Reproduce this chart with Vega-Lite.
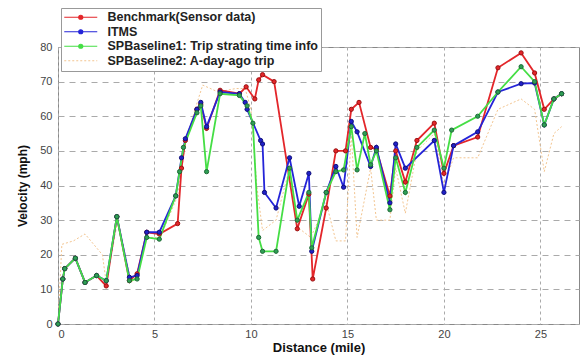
{
  "$schema": "https://vega.github.io/schema/vega-lite/v6.json",
  "width": 521,
  "height": 277,
  "autosize": {"type": "none"},
  "padding": {"left": 58, "top": 47, "right": 1, "bottom": 32},
  "background": "white",
  "config": {
    "font": "Liberation Sans",
    "view": {"stroke": "#888", "strokeWidth": 1},
    "axis": {"labelFont": "Liberation Sans", "labelFontSize": 11, "labelColor": "#444", "titleFont": "Liberation Sans", "titleFontWeight": "bold", "titleColor": "#111", "domain": false, "ticks": false, "grid": true, "gridColor": "#aaa", "gridWidth": 1}
  },
  "data": {"values": [
    {"s": "Benchmark(Sensor data)", "x": 0, "y": 0},
    {"s": "Benchmark(Sensor data)", "x": 0.25, "y": 13},
    {"s": "Benchmark(Sensor data)", "x": 0.35, "y": 16},
    {"s": "Benchmark(Sensor data)", "x": 0.9, "y": 19},
    {"s": "Benchmark(Sensor data)", "x": 1.4, "y": 12},
    {"s": "Benchmark(Sensor data)", "x": 2.0, "y": 14},
    {"s": "Benchmark(Sensor data)", "x": 2.5, "y": 11},
    {"s": "Benchmark(Sensor data)", "x": 3.05, "y": 31},
    {"s": "Benchmark(Sensor data)", "x": 3.7, "y": 12.5},
    {"s": "Benchmark(Sensor data)", "x": 4.1, "y": 14.5},
    {"s": "Benchmark(Sensor data)", "x": 4.6, "y": 26.5},
    {"s": "Benchmark(Sensor data)", "x": 5.25, "y": 26},
    {"s": "Benchmark(Sensor data)", "x": 6.2, "y": 29},
    {"s": "Benchmark(Sensor data)", "x": 6.4, "y": 45},
    {"s": "Benchmark(Sensor data)", "x": 6.6, "y": 53},
    {"s": "Benchmark(Sensor data)", "x": 7.2, "y": 62},
    {"s": "Benchmark(Sensor data)", "x": 7.4, "y": 63.5},
    {"s": "Benchmark(Sensor data)", "x": 7.7, "y": 56.5},
    {"s": "Benchmark(Sensor data)", "x": 8.4, "y": 67.5},
    {"s": "Benchmark(Sensor data)", "x": 9.4, "y": 66.5},
    {"s": "Benchmark(Sensor data)", "x": 9.75, "y": 68.5},
    {"s": "Benchmark(Sensor data)", "x": 10.2, "y": 65},
    {"s": "Benchmark(Sensor data)", "x": 10.4, "y": 70.5},
    {"s": "Benchmark(Sensor data)", "x": 10.6, "y": 72},
    {"s": "Benchmark(Sensor data)", "x": 11.2, "y": 70},
    {"s": "Benchmark(Sensor data)", "x": 12.4, "y": 27.5},
    {"s": "Benchmark(Sensor data)", "x": 13.0, "y": 37.5},
    {"s": "Benchmark(Sensor data)", "x": 13.2, "y": 13},
    {"s": "Benchmark(Sensor data)", "x": 13.9, "y": 33.5},
    {"s": "Benchmark(Sensor data)", "x": 14.4, "y": 50},
    {"s": "Benchmark(Sensor data)", "x": 14.9, "y": 50},
    {"s": "Benchmark(Sensor data)", "x": 15.2, "y": 62},
    {"s": "Benchmark(Sensor data)", "x": 15.6, "y": 64},
    {"s": "Benchmark(Sensor data)", "x": 16.2, "y": 51},
    {"s": "Benchmark(Sensor data)", "x": 16.5, "y": 50.5},
    {"s": "Benchmark(Sensor data)", "x": 17.2, "y": 37},
    {"s": "Benchmark(Sensor data)", "x": 17.5, "y": 50},
    {"s": "Benchmark(Sensor data)", "x": 18.0, "y": 41},
    {"s": "Benchmark(Sensor data)", "x": 18.6, "y": 53},
    {"s": "Benchmark(Sensor data)", "x": 19.5, "y": 58},
    {"s": "Benchmark(Sensor data)", "x": 20.0, "y": 43.5},
    {"s": "Benchmark(Sensor data)", "x": 20.5, "y": 51.5},
    {"s": "Benchmark(Sensor data)", "x": 21.75, "y": 54},
    {"s": "Benchmark(Sensor data)", "x": 22.8, "y": 74},
    {"s": "Benchmark(Sensor data)", "x": 24.0, "y": 78.3},
    {"s": "Benchmark(Sensor data)", "x": 24.7, "y": 72.5},
    {"s": "Benchmark(Sensor data)", "x": 25.2, "y": 62},
    {"s": "Benchmark(Sensor data)", "x": 25.7, "y": 65},
    {"s": "Benchmark(Sensor data)", "x": 26.1, "y": 66.5},

    {"s": "ITMS", "x": 0, "y": 0},
    {"s": "ITMS", "x": 0.25, "y": 13},
    {"s": "ITMS", "x": 0.35, "y": 16},
    {"s": "ITMS", "x": 0.9, "y": 19},
    {"s": "ITMS", "x": 1.4, "y": 12},
    {"s": "ITMS", "x": 2.0, "y": 14},
    {"s": "ITMS", "x": 2.5, "y": 12.5},
    {"s": "ITMS", "x": 3.05, "y": 31},
    {"s": "ITMS", "x": 3.7, "y": 13.5},
    {"s": "ITMS", "x": 4.1, "y": 14},
    {"s": "ITMS", "x": 4.6, "y": 26.5},
    {"s": "ITMS", "x": 5.25, "y": 26.5},
    {"s": "ITMS", "x": 6.1, "y": 37},
    {"s": "ITMS", "x": 6.4, "y": 48},
    {"s": "ITMS", "x": 6.6, "y": 53.5},
    {"s": "ITMS", "x": 7.2, "y": 62},
    {"s": "ITMS", "x": 7.4, "y": 64},
    {"s": "ITMS", "x": 7.7, "y": 57},
    {"s": "ITMS", "x": 8.4, "y": 67},
    {"s": "ITMS", "x": 9.4, "y": 66.5},
    {"s": "ITMS", "x": 9.7, "y": 64},
    {"s": "ITMS", "x": 9.8, "y": 62},
    {"s": "ITMS", "x": 10.5, "y": 53},
    {"s": "ITMS", "x": 10.6, "y": 52},
    {"s": "ITMS", "x": 10.7, "y": 38},
    {"s": "ITMS", "x": 11.3, "y": 33.5},
    {"s": "ITMS", "x": 12.0, "y": 48},
    {"s": "ITMS", "x": 12.5, "y": 34},
    {"s": "ITMS", "x": 13.0, "y": 43.5},
    {"s": "ITMS", "x": 13.15, "y": 21},
    {"s": "ITMS", "x": 13.9, "y": 38},
    {"s": "ITMS", "x": 14.4, "y": 45.5},
    {"s": "ITMS", "x": 14.8, "y": 39.5},
    {"s": "ITMS", "x": 15.2, "y": 58.5},
    {"s": "ITMS", "x": 15.5, "y": 55.5},
    {"s": "ITMS", "x": 16.2, "y": 45.5},
    {"s": "ITMS", "x": 16.5, "y": 51},
    {"s": "ITMS", "x": 17.2, "y": 35},
    {"s": "ITMS", "x": 17.5, "y": 52},
    {"s": "ITMS", "x": 18.0, "y": 45},
    {"s": "ITMS", "x": 19.5, "y": 53},
    {"s": "ITMS", "x": 20.0, "y": 38},
    {"s": "ITMS", "x": 20.5, "y": 51.5},
    {"s": "ITMS", "x": 21.75, "y": 55.5},
    {"s": "ITMS", "x": 22.8, "y": 67},
    {"s": "ITMS", "x": 24.0, "y": 69.4},
    {"s": "ITMS", "x": 24.7, "y": 69.6},
    {"s": "ITMS", "x": 25.2, "y": 57.5},
    {"s": "ITMS", "x": 25.7, "y": 65},
    {"s": "ITMS", "x": 26.1, "y": 66.5},

    {"s": "SPBaseline1: Trip strating time info", "x": 0, "y": 0},
    {"s": "SPBaseline1: Trip strating time info", "x": 0.25, "y": 13},
    {"s": "SPBaseline1: Trip strating time info", "x": 0.35, "y": 16},
    {"s": "SPBaseline1: Trip strating time info", "x": 0.9, "y": 19},
    {"s": "SPBaseline1: Trip strating time info", "x": 1.4, "y": 12},
    {"s": "SPBaseline1: Trip strating time info", "x": 2.0, "y": 14},
    {"s": "SPBaseline1: Trip strating time info", "x": 2.5, "y": 12.5},
    {"s": "SPBaseline1: Trip strating time info", "x": 3.05, "y": 31},
    {"s": "SPBaseline1: Trip strating time info", "x": 3.7, "y": 12.5},
    {"s": "SPBaseline1: Trip strating time info", "x": 4.1, "y": 13},
    {"s": "SPBaseline1: Trip strating time info", "x": 4.6, "y": 25},
    {"s": "SPBaseline1: Trip strating time info", "x": 5.25, "y": 24.5},
    {"s": "SPBaseline1: Trip strating time info", "x": 6.1, "y": 37},
    {"s": "SPBaseline1: Trip strating time info", "x": 6.3, "y": 44},
    {"s": "SPBaseline1: Trip strating time info", "x": 6.5, "y": 51},
    {"s": "SPBaseline1: Trip strating time info", "x": 7.2, "y": 61},
    {"s": "SPBaseline1: Trip strating time info", "x": 7.4, "y": 63},
    {"s": "SPBaseline1: Trip strating time info", "x": 7.7, "y": 44},
    {"s": "SPBaseline1: Trip strating time info", "x": 8.4, "y": 66.5},
    {"s": "SPBaseline1: Trip strating time info", "x": 9.4, "y": 66},
    {"s": "SPBaseline1: Trip strating time info", "x": 9.8, "y": 63},
    {"s": "SPBaseline1: Trip strating time info", "x": 10.1, "y": 58},
    {"s": "SPBaseline1: Trip strating time info", "x": 10.4, "y": 25},
    {"s": "SPBaseline1: Trip strating time info", "x": 10.6, "y": 21},
    {"s": "SPBaseline1: Trip strating time info", "x": 11.3, "y": 21},
    {"s": "SPBaseline1: Trip strating time info", "x": 12.0, "y": 45},
    {"s": "SPBaseline1: Trip strating time info", "x": 12.4, "y": 30},
    {"s": "SPBaseline1: Trip strating time info", "x": 13.0, "y": 38},
    {"s": "SPBaseline1: Trip strating time info", "x": 13.15, "y": 22},
    {"s": "SPBaseline1: Trip strating time info", "x": 13.9, "y": 38},
    {"s": "SPBaseline1: Trip strating time info", "x": 14.4, "y": 44},
    {"s": "SPBaseline1: Trip strating time info", "x": 14.8, "y": 44.5},
    {"s": "SPBaseline1: Trip strating time info", "x": 15.2, "y": 57},
    {"s": "SPBaseline1: Trip strating time info", "x": 15.5, "y": 44.5},
    {"s": "SPBaseline1: Trip strating time info", "x": 15.9, "y": 55},
    {"s": "SPBaseline1: Trip strating time info", "x": 16.2, "y": 46},
    {"s": "SPBaseline1: Trip strating time info", "x": 16.5, "y": 50},
    {"s": "SPBaseline1: Trip strating time info", "x": 17.2, "y": 33},
    {"s": "SPBaseline1: Trip strating time info", "x": 17.5, "y": 48},
    {"s": "SPBaseline1: Trip strating time info", "x": 18.0, "y": 38},
    {"s": "SPBaseline1: Trip strating time info", "x": 18.6, "y": 51},
    {"s": "SPBaseline1: Trip strating time info", "x": 19.5, "y": 56},
    {"s": "SPBaseline1: Trip strating time info", "x": 20.0, "y": 45},
    {"s": "SPBaseline1: Trip strating time info", "x": 20.4, "y": 56},
    {"s": "SPBaseline1: Trip strating time info", "x": 21.75, "y": 60},
    {"s": "SPBaseline1: Trip strating time info", "x": 22.8, "y": 67},
    {"s": "SPBaseline1: Trip strating time info", "x": 24.0, "y": 74.3},
    {"s": "SPBaseline1: Trip strating time info", "x": 24.7, "y": 70},
    {"s": "SPBaseline1: Trip strating time info", "x": 25.2, "y": 57.5},
    {"s": "SPBaseline1: Trip strating time info", "x": 25.7, "y": 65},
    {"s": "SPBaseline1: Trip strating time info", "x": 26.1, "y": 66.5},

    {"s": "SPBaseline2: A-day-ago trip", "x": 0, "y": 0},
    {"s": "SPBaseline2: A-day-ago trip", "x": 0.2, "y": 23},
    {"s": "SPBaseline2: A-day-ago trip", "x": 0.8, "y": 24},
    {"s": "SPBaseline2: A-day-ago trip", "x": 1.4, "y": 26},
    {"s": "SPBaseline2: A-day-ago trip", "x": 2.3, "y": 20},
    {"s": "SPBaseline2: A-day-ago trip", "x": 2.5, "y": 12},
    {"s": "SPBaseline2: A-day-ago trip", "x": 3.1, "y": 30},
    {"s": "SPBaseline2: A-day-ago trip", "x": 3.8, "y": 12},
    {"s": "SPBaseline2: A-day-ago trip", "x": 4.1, "y": 14},
    {"s": "SPBaseline2: A-day-ago trip", "x": 4.6, "y": 25},
    {"s": "SPBaseline2: A-day-ago trip", "x": 5.3, "y": 25},
    {"s": "SPBaseline2: A-day-ago trip", "x": 6.2, "y": 37},
    {"s": "SPBaseline2: A-day-ago trip", "x": 6.6, "y": 52},
    {"s": "SPBaseline2: A-day-ago trip", "x": 7.1, "y": 62},
    {"s": "SPBaseline2: A-day-ago trip", "x": 7.5, "y": 69},
    {"s": "SPBaseline2: A-day-ago trip", "x": 8.3, "y": 67},
    {"s": "SPBaseline2: A-day-ago trip", "x": 9.2, "y": 68},
    {"s": "SPBaseline2: A-day-ago trip", "x": 9.7, "y": 68},
    {"s": "SPBaseline2: A-day-ago trip", "x": 10.0, "y": 62},
    {"s": "SPBaseline2: A-day-ago trip", "x": 10.3, "y": 40},
    {"s": "SPBaseline2: A-day-ago trip", "x": 10.6, "y": 27},
    {"s": "SPBaseline2: A-day-ago trip", "x": 11.3, "y": 30},
    {"s": "SPBaseline2: A-day-ago trip", "x": 12.0, "y": 45},
    {"s": "SPBaseline2: A-day-ago trip", "x": 12.4, "y": 28},
    {"s": "SPBaseline2: A-day-ago trip", "x": 13.1, "y": 25},
    {"s": "SPBaseline2: A-day-ago trip", "x": 13.9, "y": 35},
    {"s": "SPBaseline2: A-day-ago trip", "x": 14.4, "y": 24},
    {"s": "SPBaseline2: A-day-ago trip", "x": 14.9, "y": 24},
    {"s": "SPBaseline2: A-day-ago trip", "x": 15.2, "y": 55},
    {"s": "SPBaseline2: A-day-ago trip", "x": 15.5, "y": 25},
    {"s": "SPBaseline2: A-day-ago trip", "x": 16.2, "y": 45},
    {"s": "SPBaseline2: A-day-ago trip", "x": 16.5, "y": 30},
    {"s": "SPBaseline2: A-day-ago trip", "x": 17.2, "y": 30},
    {"s": "SPBaseline2: A-day-ago trip", "x": 17.5, "y": 45},
    {"s": "SPBaseline2: A-day-ago trip", "x": 18.0, "y": 32},
    {"s": "SPBaseline2: A-day-ago trip", "x": 18.6, "y": 50},
    {"s": "SPBaseline2: A-day-ago trip", "x": 19.5, "y": 55},
    {"s": "SPBaseline2: A-day-ago trip", "x": 20.0, "y": 40},
    {"s": "SPBaseline2: A-day-ago trip", "x": 20.5, "y": 48},
    {"s": "SPBaseline2: A-day-ago trip", "x": 21.75, "y": 48},
    {"s": "SPBaseline2: A-day-ago trip", "x": 22.8, "y": 62},
    {"s": "SPBaseline2: A-day-ago trip", "x": 24.0, "y": 65},
    {"s": "SPBaseline2: A-day-ago trip", "x": 24.7, "y": 62},
    {"s": "SPBaseline2: A-day-ago trip", "x": 25.2, "y": 44},
    {"s": "SPBaseline2: A-day-ago trip", "x": 25.7, "y": 55},
    {"s": "SPBaseline2: A-day-ago trip", "x": 26.1, "y": 57}
  ]},
  "encoding": {
    "x": {"field": "x", "type": "quantitative", "scale": {"domain": [0, 27], "nice": false},
      "axis": {"title": "Distance (mile)", "values": [0, 5, 10, 15, 20, 25], "gridDash": [3, 3], "labelPadding": 4, "titlePadding": 2, "titleFontSize": 13}},
    "y": {"field": "y", "type": "quantitative", "scale": {"domain": [0, 80], "nice": false},
      "axis": {"title": "Velocity (mph)", "values": [0, 10, 20, 30, 40, 50, 60, 70, 80], "gridDash": [6, 5], "labelPadding": 6, "titlePadding": 10, "titleFontSize": 12}}
  },
  "layer": [
    {
      "transform": [{"filter": "datum.s === 'SPBaseline2: A-day-ago trip'"}],
      "mark": {"type": "line", "strokeWidth": 1, "strokeDash": [2, 2]},
      "encoding": {"color": {"field": "s", "type": "nominal",
        "scale": {"domain": ["Benchmark(Sensor data)", "ITMS", "SPBaseline1: Trip strating time info", "SPBaseline2: A-day-ago trip"], "range": ["#e3262a", "#2424d8", "#45de45", "#f3c590"]},
        "legend": {"orient": "none", "legendX": 3, "legendY": -39, "title": null, "strokeColor": "#999", "fillColor": "white", "padding": 3,
          "labelFont": "Liberation Sans", "labelFontSize": 12.5, "labelFontWeight": "bold", "labelColor": "#222", "labelLimit": 400, "symbolSize": 36, "symbolStrokeWidth": 1.2, "labelOffset": 31, "rowPadding": 1.5,
          "encode": {"symbols": {"update": {
            "shape": [{"test": "datum.value === 'SPBaseline2: A-day-ago trip'", "value": "M-2,0H9"}, {"value": "M-2,0H9M2.83,0A0.67,0.67,0,1,0,4.17,0A0.67,0.67,0,1,0,2.83,0Z"}],
            "fill": [{"test": "datum.value === 'SPBaseline2: A-day-ago trip'", "value": "transparent"}, {"scale": "color", "field": "value"}],
            "stroke": {"scale": "color", "field": "value"},
            "strokeDash": [{"test": "datum.value === 'SPBaseline2: A-day-ago trip'", "value": [2, 2]}, {"value": []}]
          }}}}}}
    },
    {
      "transform": [{"filter": "datum.s === 'Benchmark(Sensor data)'"}],
      "mark": {"type": "line", "strokeWidth": 1.8},
      "encoding": {"color": {"field": "s", "type": "nominal"}}
    },
    {
      "transform": [{"filter": "datum.s === 'ITMS'"}],
      "mark": {"type": "line", "strokeWidth": 1.8},
      "encoding": {"color": {"field": "s", "type": "nominal"}}
    },
    {
      "transform": [{"filter": "datum.s === 'SPBaseline1: Trip strating time info'"}],
      "mark": {"type": "line", "strokeWidth": 1.8},
      "encoding": {"color": {"field": "s", "type": "nominal"}}
    },
    {
      "transform": [{"filter": "datum.s !== 'SPBaseline2: A-day-ago trip'"}],
      "mark": {"type": "point", "filled": true, "size": 18, "strokeWidth": 1, "opacity": 1},
      "encoding": {
        "fill": {"field": "s", "type": "nominal", "scale": {"domain": ["Benchmark(Sensor data)", "ITMS", "SPBaseline1: Trip strating time info"], "range": ["#e3262a", "#2020c8", "#2f9e55"]}, "legend": null},
        "stroke": {"field": "s", "type": "nominal", "scale": {"domain": ["Benchmark(Sensor data)", "ITMS", "SPBaseline1: Trip strating time info"], "range": ["#9a1010", "#10107a", "#1d6b35"]}, "legend": null}
      }
    }
  ]
}
